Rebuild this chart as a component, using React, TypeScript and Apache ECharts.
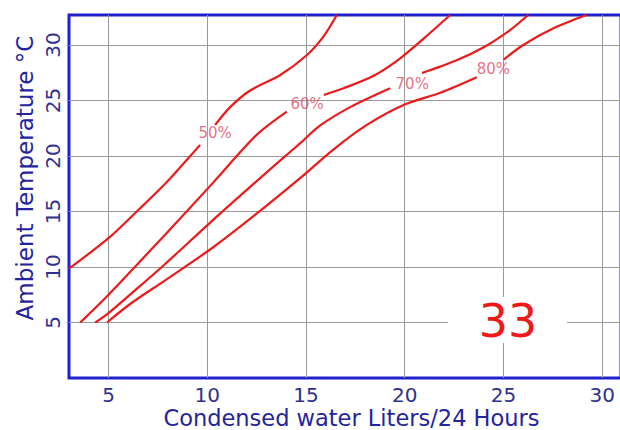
import React, { useEffect, useRef } from "react";
import * as echarts from "echarts";

const xTicks = [5, 10, 15, 20, 25, 30];
const yTicks = [5, 10, 15, 20, 25, 30];
const curveNames = ["50%", "60%", "70%", "80%"];

// [liters/24h, temperature]; null marks the gap where the curve label sits
const rh50: (number[] | null)[] = [
  [3.0, 9.85], [5, 12.6], [6.35, 14.86], [7.87, 17.5], [8.64, 19.0], [9.64, 21.0], null,
  [10.4, 22.8], [11.16, 24.4], [12.17, 25.9], [13.7, 27.3], [15.05, 29.1], [15.9, 30.8], [16.56, 32.7],
];
const rh60: (number[] | null)[] = [
  [3.57, 5], [5, 7.5], [7.7, 12.6], [10.3, 17.6], [12.5, 21.9], [14.03, 24.0], null,
  [15.9, 25.5], [16.9, 26.1], [18.4, 27.2], [19.77, 28.8], [21.1, 30.8], [22.3, 32.7],
];
const rh70: (number[] | null)[] = [
  [4.33, 5], [5, 5.85], [6.18, 7.65], [7.7, 10], [10.3, 14.25], [12.0, 16.95], [13.7, 19.6], [14.8, 21.3],
  [15.72, 22.75], [17.24, 24.4], [19.26, 26.1], null,
  [20.87, 27.47], [22.6, 28.6], [24.0, 29.8], [25.3, 31.3], [26.25, 32.7],
];
const rh80: (number[] | null)[] = [
  [4.92, 5], [6.2, 6.8], [7.87, 8.8], [10.32, 11.8], [12.5, 14.8], [14.7, 18.0], [16.4, 20.6],
  [18.08, 22.8], [19.94, 24.6], [21.8, 25.7], [23.65, 27.1], null,
  [25.0, 28.67], [26.0, 30.0], [27.53, 31.5], [29.2, 32.7],
];
const curves = [rh50, rh60, rh70, rh80];
const labelPoints = [[10.4, 22.1], [15.06, 24.7], [20.38, 26.5], [24.49, 27.83]];
const figureNumber = "33";

const FONT = "DejaVu Sans";

export default function App() {
  const ref = useRef<HTMLDivElement>(null);
  useEffect(() => {
    if (!ref.current) return;
    const chart = echarts.init(ref.current, undefined, { renderer: "svg" });
    const lineSeries = curves.map((c, i) => ({
      type: "line",
      name: curveNames[i],
      data: c.map((p) => (p ? p : "-")),
      showSymbol: false,
      symbol: "none",
      smooth: 0.3,
      connectNulls: false,
      lineStyle: { color: "#ec1a1a", width: 2.2 },
      z: 3,
    }));
    chart.setOption({
      animation: false,
      backgroundColor: "#ffffff",
      grid: {
        left: 69,
        top: 15,
        width: 552,
        height: 363,
        outerBoundsMode: "none",
        containLabel: false,
        show: true,
        borderColor: "#2020cc",
        borderWidth: 3,
        backgroundColor: "transparent",
      },
      xAxis: {
        type: "value",
        min: 3,
        max: 30.95,
        name: "Condensed water Liters/24 Hours",
        nameLocation: "middle",
        nameGap: 28,
        nameMoveOverlap: false,
        nameTextStyle: {
          fontFamily: FONT,
          fontSize: 22.5,
          lineHeight: 24,
          color: "#2424a0",
          padding: [0, 0, 0, 13],
        },
        axisLine: { show: false },
        axisTick: { show: false, customValues: xTicks },
        axisLabel: {
          customValues: xTicks,
          fontFamily: FONT,
          fontSize: 20,
          color: "#30308f",
          margin: 7,
        },
        splitLine: { show: true, lineStyle: { color: "#9a9a9a", width: 1 } },
      },
      yAxis: {
        type: "value",
        min: 0,
        max: 32.7,
        name: "Ambient Temperature °C",
        nameLocation: "middle",
        nameRotate: 90,
        nameGap: 33,
        nameMoveOverlap: false,
        nameTextStyle: { fontFamily: FONT, fontSize: 23, color: "#2424a0", padding: [0, 0, 0, 37] },
        axisLine: { show: false },
        axisTick: { show: false, customValues: yTicks },
        axisLabel: {
          customValues: yTicks,
          rotate: 90,
          fontFamily: FONT,
          fontSize: 20,
          color: "#30308f",
          margin: 6,
        },
        splitLine: { show: true, lineStyle: { color: "#9a9a9a", width: 1 } },
      },
      series: [
        ...lineSeries,
        {
          type: "scatter",
          symbolSize: 0,
          data: labelPoints.map((p, i) => ({ value: p, name: curveNames[i] })),
          label: {
            show: true,
            position: "inside",
            formatter: "{b}",
            fontFamily: FONT,
            fontSize: 15,
            color: "#e24b68",
          },
          z: 4,
        },
      ],
      graphic: [
        {
          type: "rect",
          shape: { x: 448, y: 297, width: 119, height: 46 },
          style: { fill: "#ffffff" },
          z: 10,
        },
        {
          type: "text",
          x: 508,
          y: 321,
          style: {
            text: figureNumber,
            fontFamily: FONT,
            fontSize: 46,
            fill: "#f01818",
            align: "center",
            verticalAlign: "middle",
          },
          z: 11,
        },
      ],
    });
    return () => chart.dispose();
  }, []);
  return (
    <div
      ref={ref}
      style={{ position: "absolute", left: 0, top: 0, width: 620, height: 430, background: "#fff" }}
    />
  );
}
